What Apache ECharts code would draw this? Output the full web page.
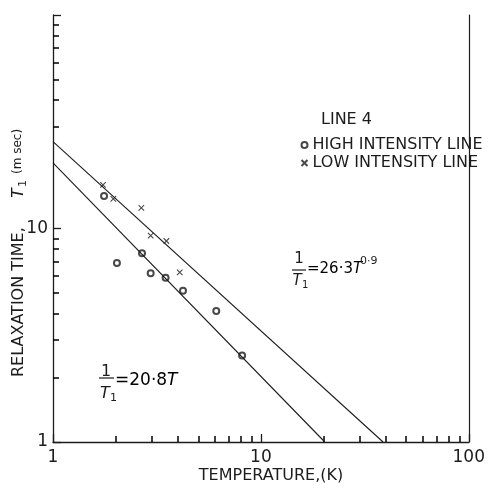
<!DOCTYPE html>
<html>
<head>
<meta charset="utf-8">
<script src="https://cdn.jsdelivr.net/npm/echarts@6/dist/echarts.min.js"></script>
<style>
html, body { margin: 0; padding: 0; background: #fff; }
#chart { width: 488px; height: 488px; }
</style>
</head>
<body>
<div id="chart"></div>
<script>
// temperature (K) vs relaxation time T1 (msec)
let highT  = [1.76, 2.03, 2.68, 2.95, 3.48, 4.22, 6.10, 8.12];
let highT1 = [14.2, 6.9, 7.65, 6.17, 5.88, 5.11, 4.11, 2.54];
let lowT   = [1.74, 1.95, 2.66, 2.95, 3.51, 4.07];
let lowT1  = [16.0, 13.75, 12.5, 9.25, 8.74, 6.23];
// the two fitted straight lines, end points
let fitHighT  = [1, 20.3];
let fitHighT1 = [20.3, 1];
let fitLowT   = [1, 38.7];
let fitLowT1  = [25.5, 1];
// log paper ticks and labels
let minorX = [2, 3, 4, 5, 6, 7, 8, 9, 20, 30, 40, 50, 60, 70, 80, 90];
let minorY = [2, 3, 4, 5, 6, 7, 8, 9, 30, 40, 50, 60, 70, 80, 90];
let xTickLabels = ['1', '10', '100'];
let yTickLabels = ['1', '10'];

let ink = '#1c1c1c';
let font = 'DejaVu Sans';

function zip(a, b) {
    return a.map((v, i) => [v, b[i]]);
}

let myc = echarts.init(document.getElementById('chart'));

function txt(x, y, text, size, extra) {
    return {
        type: 'text', x: x, y: y, silent: true,
        style: Object.assign({
            text: text, fill: ink, font: size + 'px "' + font + '"',
            textAlign: 'left', textVerticalAlign: 'middle'
        }, extra || {})
    };
}
function italic(x, y, text, size, extra) {
    return txt(x, y, text, size, Object.assign({ font: 'italic ' + size + 'px "' + font + '"' }, extra || {}));
}
function bar(x1, x2, y) {
    return { type: 'line', silent: true, shape: { x1: x1, y1: y, x2: x2, y2: y }, style: { stroke: ink, lineWidth: 1.2 } };
}

let logAxis = { type: 'log', logBase: 10, min: 1, max: 100, splitLine: { show: false } };

let options = {
    animation: false,
    grid: { left: 53, right: 18, top: 15, bottom: 46 },
    xAxis: [
        Object.assign({}, logAxis, {
            position: 'bottom',
            axisLine: { lineStyle: { color: ink, width: 1.3 } },
            axisTick: { inside: true, length: 8, lineStyle: { color: ink, width: 1.3 } },
            axisLabel: {
                margin: 7, color: ink, fontFamily: font, fontSize: 17,
                formatter: v => xTickLabels.includes(String(v)) ? String(v) : ''
            }
        }),
        Object.assign({}, logAxis, { // minor ticks
            position: 'bottom', offset: 0,
            axisLine: { show: false }, axisLabel: { show: false },
            axisTick: { show: true, inside: true, length: 6, customValues: minorX, lineStyle: { color: '#000', width: 1.5 } }
        })
    ],
    yAxis: [
        Object.assign({}, logAxis, {
            position: 'left',
            axisLine: { show: true, lineStyle: { color: ink, width: 1.3 } },
            axisTick: { show: true, inside: true, length: 8, lineStyle: { color: ink, width: 1.3 } },
            axisLabel: {
                margin: 5, color: ink, fontFamily: font, fontSize: 17,
                formatter: v => yTickLabels.includes(String(v)) ? String(v) : ''
            }
        }),
        Object.assign({}, logAxis, {
            position: 'right',
            axisLine: { show: true, lineStyle: { color: ink, width: 1.2 } },
            axisTick: { show: false }, axisLabel: { show: false }
        }),
        Object.assign({}, logAxis, { // minor ticks
            position: 'left', offset: 0,
            axisLine: { show: false }, axisLabel: { show: false },
            axisTick: { show: true, inside: true, length: 6, customValues: minorY, lineStyle: { color: '#000', width: 1.5 } }
        })
    ],
    legend: {
        data: ['HIGH INTENSITY LINE', 'LOW INTENSITY LINE'],
        orient: 'vertical', left: 299, top: 137,
        itemWidth: 6, itemHeight: 6, itemGap: 2, padding: 0,
        selectedMode: false,
        textStyle: { color: ink, fontFamily: font, fontSize: 16, lineHeight: 16 }
    },
    series: [
        {
            type: 'line', silent: true, symbol: 'none',
            lineStyle: { color: ink, width: 1.1 },
            data: zip(fitHighT, fitHighT1)
        },
        {
            type: 'line', silent: true, symbol: 'none',
            lineStyle: { color: ink, width: 1.1 },
            data: zip(fitLowT, fitLowT1)
        },
        {
            name: 'HIGH INTENSITY LINE',
            type: 'scatter', symbol: 'emptyCircle', symbolSize: 6,
            itemStyle: { color: ink, borderColor: ink, borderWidth: 0.9 },
            data: zip(highT, highT1)
        },
        {
            name: 'LOW INTENSITY LINE',
            type: 'scatter', symbol: 'path://M0,0L10,10M10,0L0,10', symbolSize: 5.5,
            itemStyle: { color: 'none', borderColor: ink, borderWidth: 1.1 },
            data: zip(lowT, lowT1)
        }
    ],
    graphic: [
        txt(321, 120, 'LINE 4', 16),
        // 1/T1 = 26.3 T^0.9
        txt(299, 259, '1', 15, { textAlign: 'center' }),
        bar(292, 306, 270),
        italic(297, 281, 'T', 15, { textAlign: 'center' }),
        txt(302, 285, '1', 10),
        {
            type: 'text', x: 307, y: 269, silent: true,
            style: {
                text: '{n|=26·3}{i|T}', textVerticalAlign: 'middle',
                rich: {
                    n: { fontFamily: font, fontSize: 15, color: ink },
                    i: { fontFamily: font, fontSize: 15, fontStyle: 'italic', color: ink }
                }
            }
        },
        txt(360, 261, '0·9', 11),
        // 1/T1 = 20.8 T
        txt(106, 372, '1', 16, { textAlign: 'center' }),
        bar(99, 114, 378),
        italic(105, 394, 'T', 16, { textAlign: 'center' }),
        txt(110, 398, '1', 11),
        {
            type: 'text', x: 115, y: 381, silent: true,
            style: {
                text: '{n|=20·8}{i|T}', textVerticalAlign: 'middle',
                rich: {
                    n: { fontFamily: font, fontSize: 17, color: ink },
                    i: { fontFamily: font, fontSize: 17, fontStyle: 'italic', color: ink }
                }
            }
        },
        // axis titles
        txt(271, 476, 'TEMPERATURE,(K)', 16, { textAlign: 'center' }),
        {
            type: 'group', x: 19, y: 377, rotation: Math.PI / 2, silent: true,
            children: [
                txt(0, 0, 'RELAXATION TIME,', 16),
                italic(179, 0, 'T', 16),
                txt(190, 4, '1', 11),
                txt(203, -1, '(m sec)', 12)
            ]
        }
    ]
};
myc.setOption(options);
</script>
</body>
</html>
